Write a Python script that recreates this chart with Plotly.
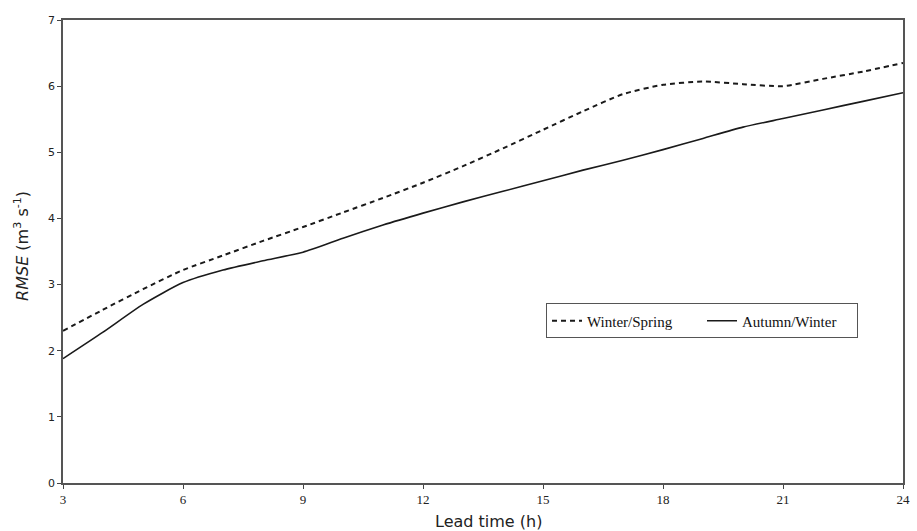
import plotly.graph_objects as go

lead_time = list(range(3, 25))
winter_spring = [2.30, 2.62, 2.93, 3.22, 3.44, 3.66, 3.87, 4.09, 4.31, 4.54, 4.79,
                 5.06, 5.34, 5.62, 5.88, 6.02, 6.07, 6.03, 6.00, 6.11, 6.22, 6.35]
autumn_winter = [1.88, 2.28, 2.70, 3.03, 3.22, 3.36, 3.49, 3.70, 3.90, 4.08, 4.25,
                 4.41, 4.57, 4.73, 4.88, 5.04, 5.21, 5.38, 5.51, 5.64, 5.77, 5.90]
x_ticks = [3, 6, 9, 12, 15, 18, 21, 24]
y_ticks = [0, 1, 2, 3, 4, 5, 6, 7]

fig = go.Figure()
fig.add_trace(go.Scatter(
    x=lead_time, y=winter_spring, mode="lines", name="Winter/Spring",
    line=dict(color="#1a1a1a", width=2, dash="5px,4px", shape="spline", smoothing=0.6)))
fig.add_trace(go.Scatter(
    x=lead_time, y=autumn_winter, mode="lines", name="Autumn/Winter",
    line=dict(color="#1a1a1a", width=1.6, shape="spline", smoothing=0.6)))

axis_common = dict(showgrid=False, zeroline=False, showline=True, mirror=True,
                   linecolor="#555555", linewidth=1.5, ticks="outside", ticklen=4,
                   tickcolor="#444444", tickwidth=1)

fig.update_layout(
    width=917, height=531,
    margin=dict(l=63, r=7, t=20, b=48),
    paper_bgcolor="white", plot_bgcolor="white",
    showlegend=True,
    legend=dict(orientation="h", x=0.575, y=0.35, xanchor="left", yanchor="middle",
                bordercolor="#555555", borderwidth=1, bgcolor="white",
                font=dict(family="Liberation Serif", size=15, color="#111111"),
                entrywidth=110, entrywidthmode="pixels",
                itemwidth=30, tracegroupgap=0),
    xaxis=dict(range=[3, 24], tickvals=x_ticks, ticktext=[str(v) for v in x_ticks],
               tickfont=dict(family="Liberation Serif", size=13, color="#222222"),
               **axis_common),
    yaxis=dict(range=[0, 7], tickvals=y_ticks, ticktext=[str(v) for v in y_ticks],
               tickfont=dict(family="DejaVu Sans", size=11, color="#222222"),
               **axis_common),
    annotations=[
        dict(text="Lead time (h)", xref="paper", yref="paper", x=0.507, y=0,
             xanchor="center", yanchor="top", yshift=-27, showarrow=False,
             font=dict(family="DejaVu Sans", size=16, color="#222222")),
        dict(text="<i>RMSE</i> (m<sup>3</sup> s<sup>-1</sup>)", xref="paper", yref="paper",
             x=0, y=0.512, xanchor="center", yanchor="middle", xshift=-41,
             textangle=-90, showarrow=False,
             font=dict(family="DejaVu Sans", size=16, color="#222222")),
    ],
)

fig.write_html("out.html")
